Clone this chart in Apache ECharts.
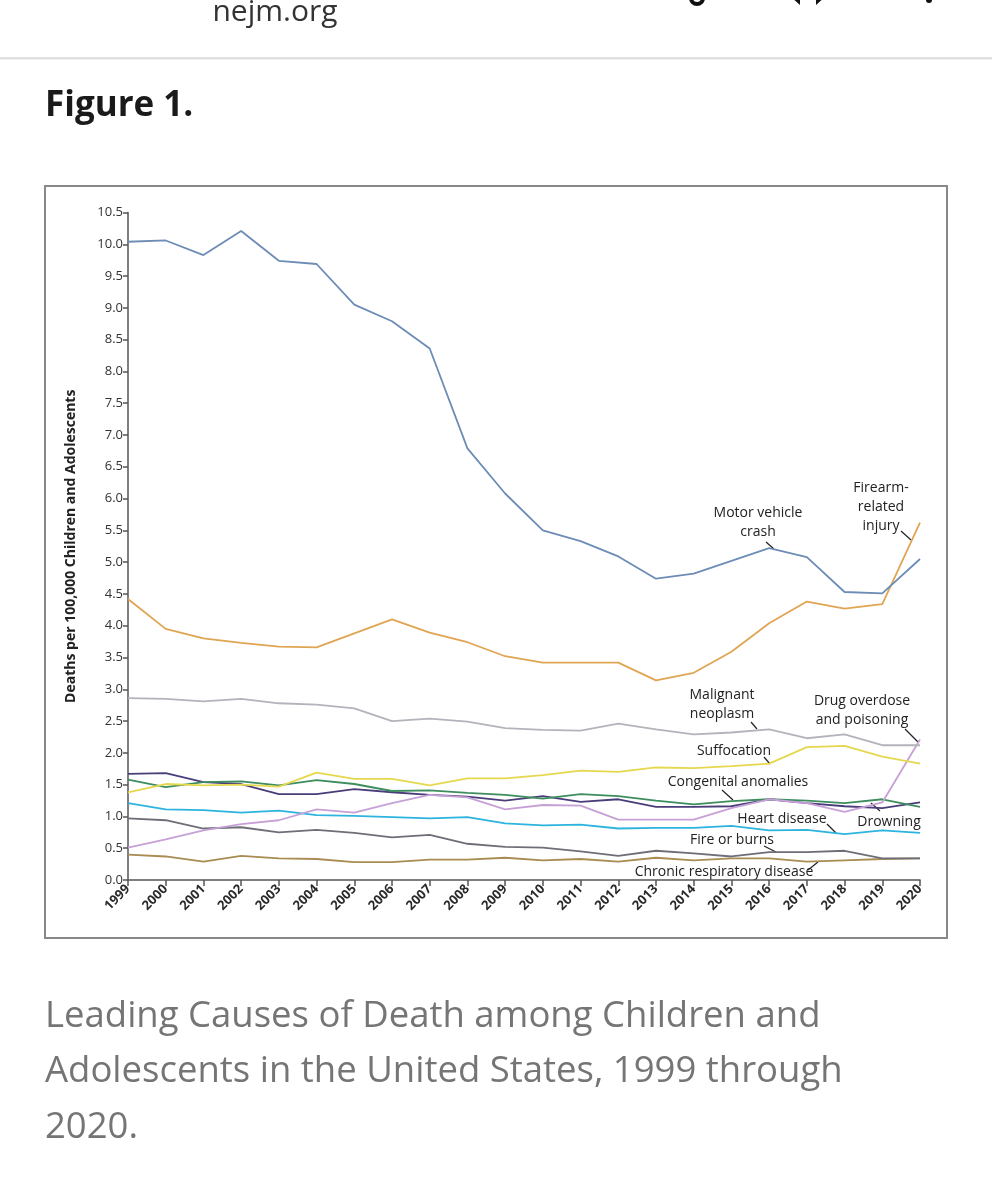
<!DOCTYPE html>
<html>
<head>
<meta charset="utf-8">
<script src="https://cdn.jsdelivr.net/npm/echarts@6/dist/echarts.min.js"></script>
<style>
html,body{margin:0;padding:0;background:#fff;}
#c{width:992px;height:1200px;}
</style>
</head>
<body>
<div id="c"></div>
<script>
const years = ['1999','2000','2001','2002','2003','2004','2005','2006','2007','2008','2009','2010','2011','2012','2013','2014','2015','2016','2017','2018','2019','2020'];
const yTicks = [0,0.5,1,1.5,2,2.5,3,3.5,4,4.5,5,5.5,6,6.5,7,7.5,8,8.5,9,9.5,10,10.5];

const motorVehicle = [10.04,10.06,9.83,10.21,9.74,9.69,9.05,8.79,8.36,6.79,6.08,5.50,5.33,5.09,4.74,4.82,5.02,5.22,5.08,4.53,4.51,5.05];
const firearm      = [4.42,3.95,3.80,3.73,3.67,3.66,3.88,4.10,3.89,3.74,3.52,3.42,3.42,3.42,3.14,3.26,3.59,4.04,4.38,4.27,4.34,5.62];
const malignant    = [2.86,2.85,2.81,2.85,2.78,2.76,2.70,2.50,2.54,2.49,2.39,2.36,2.35,2.46,2.37,2.29,2.32,2.37,2.23,2.29,2.12,2.12];
const drugOverdose = [0.51,0.64,0.78,0.88,0.94,1.11,1.06,1.21,1.34,1.30,1.11,1.18,1.17,0.95,0.95,0.95,1.13,1.27,1.21,1.07,1.22,2.21];
const suffocation  = [1.38,1.51,1.49,1.50,1.47,1.69,1.59,1.59,1.49,1.60,1.60,1.65,1.72,1.70,1.77,1.76,1.79,1.83,2.09,2.11,1.94,1.83];
const congenital   = [1.58,1.46,1.54,1.55,1.49,1.57,1.51,1.40,1.41,1.37,1.34,1.28,1.35,1.32,1.25,1.19,1.24,1.27,1.25,1.21,1.27,1.15];
const drowning     = [1.67,1.68,1.54,1.51,1.35,1.35,1.43,1.38,1.34,1.31,1.25,1.32,1.23,1.27,1.15,1.15,1.16,1.27,1.21,1.16,1.13,1.22];
const heartDisease = [1.21,1.11,1.10,1.06,1.09,1.02,1.01,0.99,0.97,0.99,0.89,0.86,0.87,0.81,0.82,0.82,0.85,0.78,0.79,0.72,0.78,0.74];
const fireBurns    = [0.97,0.94,0.81,0.83,0.75,0.79,0.74,0.67,0.71,0.57,0.52,0.51,0.45,0.38,0.46,0.42,0.37,0.44,0.44,0.46,0.34,0.34];
const chronicResp  = [0.40,0.37,0.29,0.38,0.34,0.33,0.28,0.28,0.32,0.32,0.35,0.31,0.33,0.29,0.35,0.31,0.34,0.34,0.29,0.31,0.33,0.34];

const seriesDefs = [
  ['Chronic respiratory disease', chronicResp, '#a88c52'],
  ['Fire or burns', fireBurns, '#6e6e78'],
  ['Heart disease', heartDisease, '#2db4de'],
  ['Drowning', drowning, '#4a3d7a'],
  ['Congenital anomalies', congenital, '#3e8d5e'],
  ['Drug overdose and poisoning', drugOverdose, '#c7a0d6'],
  ['Suffocation', suffocation, '#e6d84e'],
  ['Malignant neoplasm', malignant, '#b3b3bb'],
  ['Firearm-related injury', firearm, '#e0a552'],
  ['Motor vehicle crash', motorVehicle, '#6d8cb6']
];

const chart = echarts.init(document.getElementById('c'), null, {renderer:'canvas'});
const FONT = 'Open Sans';
const TXT = '#222';

function lbl(x, y, text) {
  return {type:'text', x:x, y:y, style:{text:text, fill:TXT, font:'14px "Open Sans"', align:'center', verticalAlign:'middle', lineHeight:19}};
}
function lead(x1,y1,x2,y2){
  return {type:'line', shape:{x1:x1,y1:y1,x2:x2,y2:y2}, style:{stroke:'#222', lineWidth:1.2}};
}

chart.setOption({
  animation:false,
  backgroundColor:'#fff',
  grid:{left:128, top:212.5, width:792, height:667.5, containLabel:false},
  xAxis:{
    type:'category', data:years, boundaryGap:false,
    axisLine:{lineStyle:{color:'#555', width:1.5}},
    axisTick:{show:true, alignWithLabel:true, length:6, lineStyle:{color:'#555', width:1.5}},
    axisLabel:{rotate:45, fontFamily:FONT, fontWeight:'bold', fontSize:13, color:'#2a2a2a', margin:7, interval:0}
  },
  yAxis:{
    type:'value', min:0, max:10.5, interval:0.5,
    name:'Deaths per 100,000 Children and Adolescents',
    nameLocation:'middle', nameGap:50, nameRotate:90,
    nameTextStyle:{fontFamily:FONT, fontWeight:'bold', fontSize:14, color:'#222'},
    axisLine:{show:true, lineStyle:{color:'#555', width:1.5}},
    axisTick:{show:true, inside:false, length:5, lineStyle:{color:'#555', width:1.5}},
    splitLine:{show:false},
    axisLabel:{fontFamily:FONT, fontSize:13, color:'#333', margin:5, formatter:function(v){return v.toFixed(1);}}
  },
  series: seriesDefs.map(function(d){
    return {name:d[0], type:'line', data:d[1], symbol:'none', smooth:false,
      lineStyle:{color:d[2], width:1.8}, z:3};
  }),
  graphic:[
    {type:'text', x:275, y:12, style:{text:'nejm.org', fill:'#333', font:'30px "Open Sans"', align:'center', verticalAlign:'middle'}},
    {type:'circle', shape:{cx:697, cy:-2, r:6}, style:{fill:'none', stroke:'#111', lineWidth:4}},
    {type:'polygon', shape:{points:[[790,-4],[800,-4],[800,5]]}, style:{fill:'#111'}},
    {type:'polygon', shape:{points:[[816,-4],[826,-4],[816,5]]}, style:{fill:'#111'}},
    {type:'circle', shape:{cx:929, cy:0, r:3}, style:{fill:'#111'}},
    {type:'rect', shape:{x:0,y:57,width:992,height:2.5}, style:{fill:'#e0e0e0'}},
    {type:'text', x:45, y:106, style:{text:'Figure 1.', fill:'#1a1a1a', font:'bold 35px "Open Sans"', align:'left', verticalAlign:'middle'}},
    {type:'rect', shape:{x:45,y:186,width:902,height:752}, style:{fill:'none', stroke:'#888', lineWidth:2}, z:0},
    {type:'text', x:45, y:1017, style:{text:'Leading Causes of Death among Children and', fill:'#757575', font:'36.5px "Open Sans"', align:'left', verticalAlign:'middle'}},
    {type:'text', x:45, y:1072, style:{text:'Adolescents in the United States, 1999 through', fill:'#757575', font:'36.5px "Open Sans"', align:'left', verticalAlign:'middle'}},
    {type:'text', x:45, y:1128, style:{text:'2020.', fill:'#757575', font:'36.5px "Open Sans"', align:'left', verticalAlign:'middle'}},
    lbl(758, 523, 'Motor vehicle\ncrash'), lead(766,542,774,549),
    lbl(881, 507, 'Firearm-\nrelated\ninjury'), lead(901,531,911,540),
    lbl(722, 705, 'Malignant\nneoplasm'), lead(751,722,757,729),
    lbl(862, 711, 'Drug overdose\nand poisoning'), lead(905,729,918,742),
    lbl(734, 751, 'Suffocation'), lead(764,757,770,764),
    lbl(738, 782, 'Congenital anomalies'), lead(722,790,733,800),
    lbl(782, 819, 'Heart disease'), lead(827,824,836,833),
    lbl(889, 822, 'Drowning'), lead(880,811,871,803),
    lbl(732, 840, 'Fire or burns'), lead(764,846,776,852),
    lbl(724, 872, 'Chronic respiratory disease'), lead(808,870,818,862)
  ]
});
</script>
</body>
</html>
